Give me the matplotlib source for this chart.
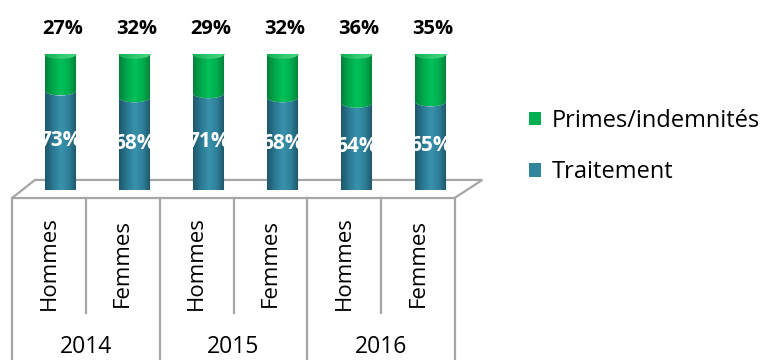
import numpy as np
import matplotlib.pyplot as plt
from matplotlib.colors import LinearSegmentedColormap
from matplotlib.patches import Ellipse, PathPatch, Patch, Polygon
from matplotlib.path import Path

plt.rcParams['font.family'] = ['Open Sans', 'DejaVu Sans']

years = ['2014', '2015', '2016']
sexes = ['Hommes', 'Femmes']
traitement = [73, 68, 71, 68, 64, 65]
primes = [27, 32, 29, 32, 36, 35]

blue_cm = LinearSegmentedColormap.from_list(
    'blue', ['#1d5669', '#2b7892', '#3892ab', '#2f809a', '#1c5264'])
green_cm = LinearSegmentedColormap.from_list(
    'green', ['#008039', '#00a84b', '#00c258', '#00ae4e', '#007e37'])
cap_cm = LinearSegmentedColormap.from_list(
    'cap', ['#0fae52', '#2fcb70', '#45d47f'])

W, H = 762, 360
fig = plt.figure(figsize=(W / 100, H / 100), dpi=100)

# cylinders axes: x = bar index, y = percent
ax = fig.add_axes([23.5 / W, (H - 190) / H, 444 / W, 136 / H])
ax.set_xlim(-0.5, 5.5)
ax.set_ylim(0, 100)
ax.axis('off')

bw = 0.42   # cylinder width (bar units)
eh = 3.5    # half height of the ellipses (percent units)


def side_path(cx, y0, y1):
    t = np.linspace(np.pi, 2 * np.pi, 40)
    low = np.column_stack([cx + bw / 2 * np.cos(t), y0 + eh * np.sin(t)])
    high = np.column_stack([cx + bw / 2 * np.cos(t[::-1]), y1 + eh * np.sin(t[::-1])])
    pts = np.vstack([[[cx - bw / 2, y1]], low, high, [[cx - bw / 2, y1]]])
    return Path(pts, closed=True)


def shaded(patch, cmap, extent, z):
    ax.add_patch(patch)
    grad = np.linspace(0, 1, 256)[None, :]
    im = ax.imshow(grad, cmap=cmap, aspect='auto', zorder=z, interpolation='bilinear',
                   extent=extent)
    im.set_clip_path(patch)


# floor
floor = Polygon([(-0.655, -5.9), (5.324, -5.9), (5.70, 7.4), (-0.345, 7.4)],
                closed=True, facecolor='white', edgecolor='#a6a6a6', lw=1.6,
                clip_on=False, zorder=1)
ax.add_patch(floor)

for i, (t, p) in enumerate(zip(traitement, primes)):
    x0, x1 = i - bw / 2, i + bw / 2
    shaded(PathPatch(side_path(i, 0, t), fc='none', ec='none', zorder=2),
           blue_cm, [x0, x1, -eh, t + eh], 2)
    shaded(PathPatch(side_path(i, t, t + p), fc='none', ec='none', zorder=3),
           green_cm, [x0, x1, t - eh, t + p + eh], 3)
    cap = Ellipse((i, t + p), bw, 2 * eh, fc='none', ec='#0c9a47', lw=0.6, zorder=4)
    shaded(cap, cap_cm, [x0, x1, t + p - eh, t + p + eh], 4)
    ax.text(i, t / 2, f'{t}%', color='white', fontsize=15, fontweight='bold',
            ha='center', va='center', zorder=5)
    ax.annotate(f'{p}%', (i, t + p), xytext=(1.5, 14.5), textcoords='offset points',
                ha='center', va='baseline', fontsize=14.5, fontweight='bold',
                annotation_clip=False)

ax.set_xlim(-0.5, 5.5)
ax.set_ylim(0, 100)

# category table under the floor
ax2 = fig.add_axes([12 / W, 0, 443 / W, (H - 198) / H])
ax2.set_xlim(0, 6)
ax2.set_ylim(0, 1)
ax2.axis('off')
grey = '#a6a6a6'
for x in range(7):
    y_end = 0 if x % 2 == 0 else (H - 313) / (H - 198)
    ax2.plot([x, x], [y_end, 1], color=grey, lw=1.6, clip_on=False)
for i in range(6):
    ax2.text(i + 0.5, 0.60, sexes[i % 2], rotation=90, ha='center', va='center', fontsize=16)
for j, y in enumerate(years):
    ax2.text(2 * j + 1, 0.08, y, ha='center', va='center', fontsize=16.5)

handles = [Patch(facecolor='#00b050', label='Primes/indemnités'),
           Patch(facecolor='#31859c', label='Traitement')]
fig.legend(handles=handles, loc='upper left', bbox_to_anchor=(529 / W, 1 - 109 / H),
           frameon=False, fontsize=17, handlelength=0.5, handleheight=0.5,
           handletextpad=0.45, labelspacing=1.15, borderpad=0, borderaxespad=0)

fig.savefig('out.png', dpi=100)
